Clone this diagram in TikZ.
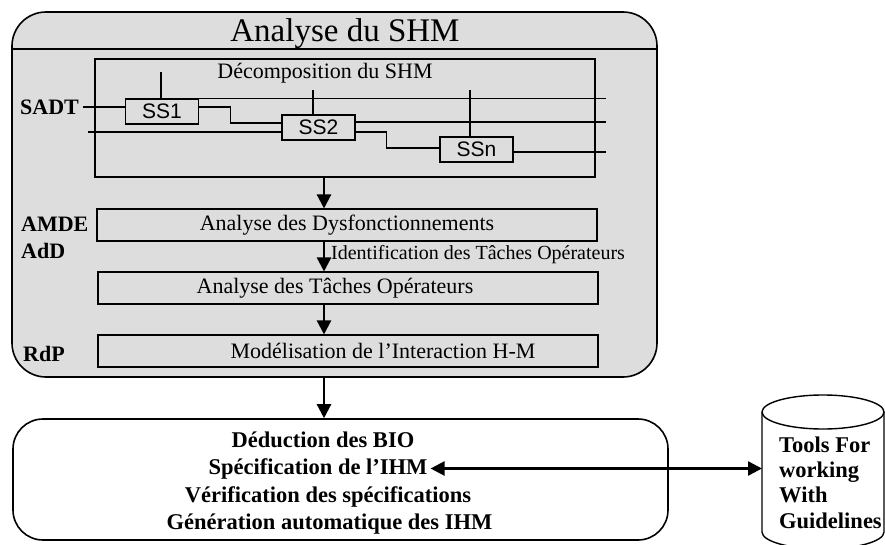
\documentclass[tikz,border=0pt]{standalone}
\usepackage{fontspec}
\setmainfont{Liberation Serif}
\newfontfamily\arialfont{Liberation Sans}
\usetikzlibrary{arrows.meta}

\begin{document}
\begin{tikzpicture}[x=1pt,y=-1pt,>={Triangle[length=14pt,width=14pt]},
    shm box/.style={draw,line width=1.6pt,rounded corners=34pt,fill=gray!27,minimum width=645pt,minimum height=365pt},
    stage box/.style={draw,line width=1.1pt,fill=gray!27,minimum width=500pt,minimum height=32pt,inner sep=0pt,font=\fontsize{22}{26}\selectfont},
    stage text/.style={inner sep=0pt,font=\fontsize{22}{26}\selectfont},
    ss box/.style={draw,line width=1.4pt,minimum width=73pt,minimum height=25pt,inner sep=0pt,font=\arialfont\fontsize{21}{24}\selectfont},
    side label/.style={anchor=west,inner sep=0pt,font=\bfseries\fontsize{22}{26}\selectfont},
    ihm line/.style={inner sep=3pt,font=\bfseries\fontsize{22.5}{25.3}\selectfont},
    flow/.style={line width=2.4pt},
    wire/.style={line width=1.2pt}]
    \path[use as bounding box,fill=white] (0,0) rectangle (885,545);

    % analyse du SHM
    \node[shm box] (shm) at (334.5,194.5) {};
    \coordinate (headrule) at (0,49);
    \draw[line width=1.4pt] (shm.west |- headrule) -- (shm.east |- headrule);
    \node[font=\fontsize{33}{36}\selectfont] (title) at (345,34) {Analyse du SHM};

    % decomposition SADT
    \node[draw,line width=1.1pt,minimum width=500pt,minimum height=118pt] (decomp) at (345,118) {};
    \node[stage text] (decomptitle) at (325,73) {Décomposition du SHM};
    \node[ss box] (ss1) at (162,111.5) {SS1};
    \node[ss box] (ss2) at (318.5,127.5) {SS2};
    \node[ss box] (ssn) at (476.5,149.5) {SSn};
    \coordinate (outx) at (606,0);
    \coordinate (inx) at (88,132);

    \node[side label,inner xsep=4pt] (sadt) at (16,107) {SADT};
    \node[side label] (amdelbl) at (21,224.5) {AMDE};
    \node[side label] (addlbl) at (21,250.5) {AdD};
    \node[side label] (rdplbl) at (23,353.5) {RdP};

    \draw[wire] (sadt.east) -- (sadt.east -| ss1.west);
    \draw[wire] (ss1.north east) -- (ss1.north east -| outx);
    \draw[wire] ([yshift=4.5pt]ss1.east) -- ++(31,0) |- ([yshift=4.5pt]ss2.west);
    \draw[wire] (inx) -- (inx -| ss2.west);
    \draw[wire] ([yshift=5.5pt]ss2.east) -- ([yshift=5.5pt]ss2.east -| outx);
    \draw[wire] ([yshift=-4.5pt]ss2.east) -- ++(31,0) |- ([yshift=1.5pt]ssn.west);
    \draw[wire] ([yshift=-2.5pt]ssn.east) -- ([yshift=-2.5pt]ssn.east -| outx);
    \draw[wire] ([xshift=-1pt]ss1.north) -- ++(0,-26);
    \draw[wire] ([xshift=-5.5pt]ss2.north) -- ++(0,-24);
    \draw[wire] ([xshift=-6.5pt]ssn.north) -- ++(0,-46);

    % stages
    \node[stage box] (amde) at (347,225) {Analyse des Dysfonctionnements};
    \node[stage box,label={[stage text,xshift=-13pt]center:Analyse des Tâches Opérateurs}] (tache) at (348,288) {};
    \node[stage box,label={[stage text,xshift=35pt]center:Modélisation de l’Interaction H-M}] (rdp) at (348,351) {};
    \node[stage text,anchor=west,font=\fontsize{20}{24}\selectfont] (ident) at (331,255) {Identification des Tâches Opérateurs};

    % IHM
    \node[draw,line width=1.6pt,rounded corners=30pt,minimum width=655pt,minimum height=121pt] (ihm) at (340.5,479.5) {};
    \node[ihm line] (bio) at (323,440) {Déduction des BIO};
    \node[ihm line] (spec) at (318,468.5) {Spécification de l’IHM};
    \node[ihm line] (verif) at (328,496.5) {Vérification des spécifications};
    \node[ihm line] (gen) at (329.5,524.5) {Génération automatique des IHM};

    % guidelines (cylinder)
    \draw[line width=1.4pt] (823,412) ellipse [x radius=61,y radius=17];
    \draw[line width=1.4pt] (762,412) -- (762,532) arc[start angle=180,end angle=0,x radius=61,y radius=17] -- (884,412);
    \coordinate (toolsleft) at (762,468);
    \node[ihm line,anchor=west,align=left,inner sep=0pt] (tools) at (779,482.4) {Tools For\\working\\With\\Guidelines};

    \coordinate (axis) at (324,0);
    \path[flow,->] (decomp.south -| axis) edge (amde.north -| axis)
        (amde.south -| axis) edge (tache.north -| axis)
        (tache.south -| axis) edge (rdp.north -| axis)
        (shm.south -| axis) edge (ihm.north -| axis);
    \draw[flow,<->] (spec.east) -- (spec.east -| toolsleft);
\end{tikzpicture}
\end{document}
